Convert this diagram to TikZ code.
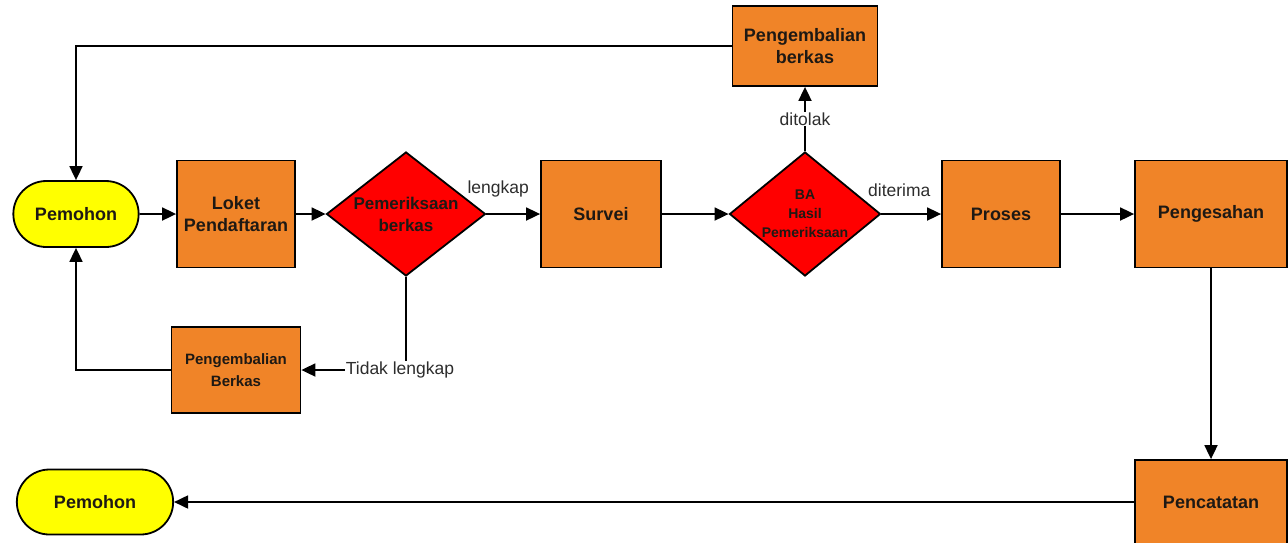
\documentclass[tikz,border=0pt]{standalone}
\usepackage{fontspec}
\setmainfont{Liberation Sans}
\usetikzlibrary{shapes.geometric, shapes.misc, arrows.meta}

\definecolor{boxorange}{RGB}{240,132,40}
\definecolor{termyellow}{RGB}{255,255,0}
\definecolor{textdark}{RGB}{30,25,20}
\definecolor{labelgrey}{RGB}{45,45,45}

\begin{document}
\begin{tikzpicture}[
        x=1pt, y=-1pt,
        line width=1.8pt,
        >={Triangle[length=14pt, width=13pt]},
        proc/.style={draw, fill=boxorange, minimum width=118pt, minimum height=107pt,
            align=center, text=textdark, font=\bfseries\fontsize{18}{22}\selectfont},
        decision/.style={draw, diamond, aspect=1.25, fill=red, inner sep=0pt, align=center,
            text=textdark},
        terminal/.style={draw, rounded rectangle, fill=termyellow, minimum height=66pt,
            text=textdark, font=\bfseries\fontsize{18}{22}\selectfont},
        lbl/.style={text=labelgrey, font=\fontsize{17.5}{20}\selectfont},
    ]

    \useasboundingbox (0,0) rectangle (1288,542);

    % main row
    \node[terminal, minimum width=132pt] (pemohon) at (76,214) {Pemohon};
    \node[proc] (loket) at (236,214) {Loket\\Pendaftaran};
    \node[decision, minimum width=159pt, minimum height=124pt,
        font=\bfseries\fontsize{17}{22}\selectfont] (periksa) at (406,214) {Pemeriksaan\\berkas};
    \node[proc, minimum width=120pt] (survei) at (601,214) {Survei};
    \node[decision, minimum width=151pt, minimum height=124pt,
        font=\bfseries\fontsize{14}{19}\selectfont] (hasil) at (805,214) {BA\\Hasil\\Pemeriksaan};
    \node[proc] (proses) at (1001,214) {Proses};
    \node[proc, minimum width=152pt] (sah) at (1211,214) {Pengesahan};

    % returns
    \node[proc, minimum width=145pt, minimum height=80pt] (kembali) at (805,46) {Pengembalian\\berkas};
    \node[proc, minimum width=129pt, minimum height=86pt,
        font=\bfseries\fontsize{15}{22}\selectfont] (balik) at (236,370) {Pengembalian\\Berkas};

    % bottom row
    \node[proc, minimum width=152pt, minimum height=84pt] (catat) at (1211,502) {Pencatatan};
    \node[terminal, minimum width=163pt, minimum height=65pt] (selesai) at (95,502) {Pemohon};

    \draw[->] (pemohon) -- (loket);
    \draw[->] (loket) -- (periksa);
    \draw[->] (periksa) -- (survei) node[lbl, pos=0.22, above=13pt] {lengkap};
    \draw[->] (survei) -- (hasil);
    \draw[->] (hasil) -- (proses) node[lbl, pos=0.3, above=13pt] {diterima};
    \draw[->] (proses) -- (sah);
    \draw[->] (hasil) -- (kembali) node[lbl, midway, fill=white, inner sep=1pt] {ditolak};
    \draw[->] (kembali.west) -| (pemohon.north);
    \draw[->] (periksa.south) |- (balik.east) node[lbl, pos=0.5, xshift=-6pt, fill=white, inner sep=1pt] {Tidak lengkap};
    \draw[->] (balik.west) -| (pemohon.south);
    \draw[->] (sah) -- (catat);
    \draw[->] (catat) -- (selesai);

\end{tikzpicture}
\end{document}
